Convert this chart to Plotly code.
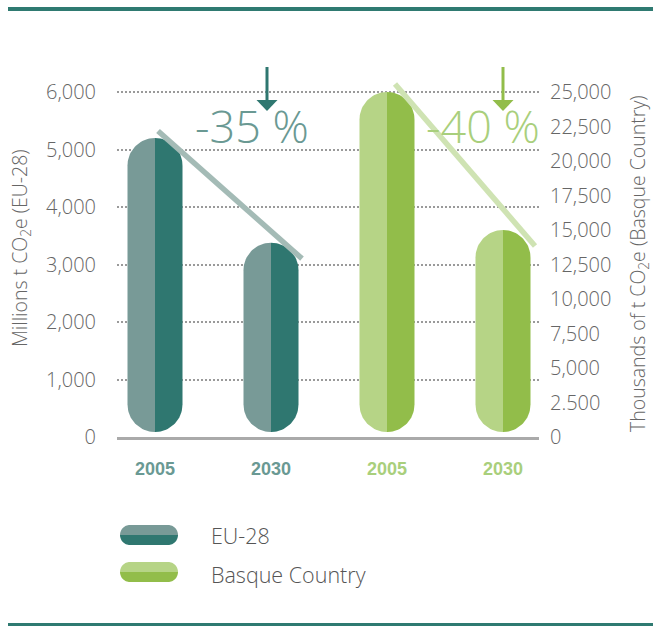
import numpy as np
import plotly.graph_objects as go

# ---------------- data ----------------
eu_years = ["2005", "2030"]
eu_values = [5200, 3380]            # millions t CO2e
basque_years = ["2005", "2030"]
basque_values = [25000, 15000]      # thousands of t CO2e
eu_change_label = "-35 %"
basque_change_label = "-40 %"

left_tickvals = [0, 1000, 2000, 3000, 4000, 5000, 6000]
left_ticktext = ["0", "1,000", "2,000", "3,000", "4,000", "5,000", "6,000"]
right_tickvals = [0, 2500, 5000, 7500, 10000, 12500, 15000, 17500, 20000, 22500, 25000]
right_ticktext = ["0", "2.500", "5,000", "7,500", "10,000", "12,500", "15,000",
                  "17,500", "20,000", "22,500", "25,000"]

series_names = ["EU-28", "Basque Country"]

# ---------------- style ----------------
EU_LIGHT, EU_DARK = "#789a97", "#2f7770"
BQ_LIGHT, BQ_DARK = "#b6d486", "#92bd4a"
EU_TEXT, BQ_TEXT = "#6a9993", "#a9cf7c"
EU_TREND, BQ_TREND = "#a4bbb6", "#cfe3b3"
RULE = "#2f7a71"
TXT = "#666666"
FONT = "Liberation Sans, Arial, sans-serif"
LIGHT_FONT = "Open Sans, Lato, sans-serif"

W, H = 653, 626
PL, PR, PT, PB = 117, 539, 62, 437        # plot box in pixels
TOP_TICK_PX = 92                          # pixel row of the top gridline
plot_w, plot_h = PR - PL, PB - PT

yl_max = left_tickvals[-1] * plot_h / (PB - TOP_TICK_PX)
yr_max = right_tickvals[-1] * plot_h / (PB - TOP_TICK_PX)

SLOT_PX = 116                             # distance between bar centres
FIRST_PX = 155                            # first bar centre
x_min = -(FIRST_PX - PL) / SLOT_PX
x_max = x_min + plot_w / SLOT_PX

BAR_HALF_PX = 27.5
BASE_GAP_PX = 5


def px_x(x):
    return (x - PL) / plot_w


def px_y(y):
    return (PB - y) / plot_h


def pill_halves(xc, top, y_max):
    """Left and right halves of a rounded bar in data coordinates."""
    upx_y = y_max / plot_h
    hw = BAR_HALF_PX / SLOT_PX
    r = BAR_HALF_PX * upx_y
    bottom = BASE_GAP_PX * upx_y
    t = np.linspace(0, np.pi / 2, 24)
    halves = []
    for sgn in (-1, 1):
        xs = np.concatenate([xc + sgn * hw * np.sin(t),
                             xc + sgn * hw * np.cos(t),
                             [xc]])
        ys = np.concatenate([top - r + r * np.cos(t),
                             bottom + r - r * np.sin(t),
                             [top]])
        halves.append((xs, ys))
    return halves


fig = go.Figure()

groups = [
    (eu_values, 0, "y", yl_max, EU_LIGHT, EU_DARK, series_names[0]),
    (basque_values, 2, "y2", yr_max, BQ_LIGHT, BQ_DARK, series_names[1]),
]
for values, start, yax, ymax, light, dark, name in groups:
    for i, v in enumerate(values):
        (lx, ly), (rx, ry) = pill_halves(start + i, v, ymax)
        for xs, ys, col in ((lx, ly, light), (rx, ry, dark)):
            fig.add_trace(go.Scatter(
                x=xs, y=ys, yaxis=yax, mode="lines", fill="toself",
                fillcolor=col, line=dict(width=0, color=col),
                hoverinfo="skip", showlegend=False, name=name))

# trend strokes running from the 2005 bar down past the 2030 bar
upx_l = yl_max / plot_h
upx_r = yr_max / plot_h
fig.add_trace(go.Scatter(
    x=[0 + 0.026, 1 + 0.267],
    y=[eu_values[0] + 7 * upx_l, eu_values[1] - 16 * upx_l],
    yaxis="y", mode="lines", line=dict(color=EU_TREND, width=5.5),
    hoverinfo="skip", showlegend=False))
fig.add_trace(go.Scatter(
    x=[2 + 0.069, 3 + 0.276],
    y=[basque_values[0] + 8 * upx_r, basque_values[1] - 16 * upx_r],
    yaxis="y2", mode="lines", line=dict(color=BQ_TREND, width=5.5),
    hoverinfo="skip", showlegend=False))

shapes = []
# rules at top and bottom of the panel
shapes.append(dict(type="rect", xref="paper", yref="paper",
                   x0=px_x(8), x1=px_x(W), y0=px_y(7), y1=px_y(11),
                   fillcolor=RULE, line_width=0, layer="above"))
shapes.append(dict(type="rect", xref="paper", yref="paper",
                   x0=px_x(8), x1=px_x(W), y0=px_y(623), y1=px_y(626),
                   fillcolor=RULE, line_width=0, layer="above"))


def arrow(xp, col):
    out = [dict(type="line", xref="paper", yref="paper",
                x0=px_x(xp), x1=px_x(xp), y0=px_y(67), y1=px_y(102),
                line=dict(color=col, width=3))]
    path = "M {},{} L {},{} L {},{} Z".format(
        px_x(xp - 10.5), px_y(100), px_x(xp + 10.5), px_y(100),
        px_x(xp), px_y(111))
    out.append(dict(type="path", xref="paper", yref="paper", path=path,
                    fillcolor=col, line_width=0))
    return out


shapes += arrow(267, EU_DARK)
shapes += arrow(503, BQ_DARK)


def legend_pill(x0, x1, yc, h, col_top, col_bot):
    r = h / 2
    t = np.linspace(0, np.pi / 2, 16)
    res = []
    for sgn, col in ((-1, col_top), (1, col_bot)):
        pts = [(x0, yc)]
        pts += [(x0 + r - r * np.cos(a), yc + sgn * r * np.sin(a)) for a in t]
        pts += [(x1 - r + r * np.sin(a), yc + sgn * r * np.cos(a)) for a in t]
        pts.append((x1, yc))
        path = "M " + " L ".join("{:.5f},{:.5f}".format(px_x(a), px_y(b)) for a, b in pts) + " Z"
        res.append(dict(type="path", xref="paper", yref="paper", path=path,
                        fillcolor=col, line_width=0))
    return res


shapes += legend_pill(120, 178, 535, 20, EU_LIGHT, EU_DARK)
shapes += legend_pill(120, 178, 572, 20, BQ_LIGHT, BQ_DARK)


def note(text, xp, yp, size, color, angle=0, xanchor="center", family=LIGHT_FONT, weight=300):
    return dict(text=text, x=px_x(xp), y=px_y(yp), xref="paper", yref="paper",
                xanchor=xanchor, yanchor="middle", textangle=angle, showarrow=False,
                font=dict(family=family, size=size, color=color, weight=weight))


annotations = [
    note(eu_change_label, 252, 126, 45, EU_TEXT),
    note(basque_change_label, 483, 126, 45, BQ_TEXT),
    note("Millions t CO<sub>2</sub>e (EU-28)", 20, 248, 19.5, TXT, angle=-90),
    note("Thousands of t CO<sub>2</sub>e (Basque Country)", 638, 264, 19.5, TXT, angle=-90),
    note(series_names[0], 209, 535, 21.5, "#555555", xanchor="left"),
    note(series_names[1], 209, 574, 21.5, "#555555", xanchor="left"),
]

x_ticktext = (["<b><span style='color:{}'>{}</span></b>".format(EU_TEXT, y) for y in eu_years] +
              ["<b><span style='color:{}'>{}</span></b>".format(BQ_TEXT, y) for y in basque_years])

tick_font = dict(family=LIGHT_FONT, size=20, color=TXT, weight=300)

fig.update_layout(
    width=W, height=H,
    margin=dict(l=PL, r=W - PR, t=PT, b=H - PB),
    paper_bgcolor="white", plot_bgcolor="white",
    showlegend=False,
    shapes=shapes, annotations=annotations,
    xaxis=dict(range=[x_min, x_max], tickvals=[0, 1, 2, 3], ticktext=x_ticktext,
               showgrid=False, zeroline=False, showline=True, linecolor="#aaaaaa",
               linewidth=2.5, ticks="", tickfont=dict(family=FONT, size=18),
               ticklabelstandoff=14, fixedrange=True),
    yaxis=dict(range=[0, yl_max], tickvals=left_tickvals, ticktext=left_ticktext,
               showgrid=True, gridcolor="#9a9a9a", gridwidth=1.5, griddash="1.5px,2.5px",
               zeroline=False, ticks="", tickfont=tick_font,
               ticklabelstandoff=20, fixedrange=True),
    yaxis2=dict(range=[0, yr_max], overlaying="y", side="right",
                tickvals=right_tickvals, ticktext=right_ticktext,
                showgrid=False, zeroline=False, ticks="",
                tickfont=tick_font, ticklabelstandoff=10, fixedrange=True),
)

fig.write_html("out.html")
